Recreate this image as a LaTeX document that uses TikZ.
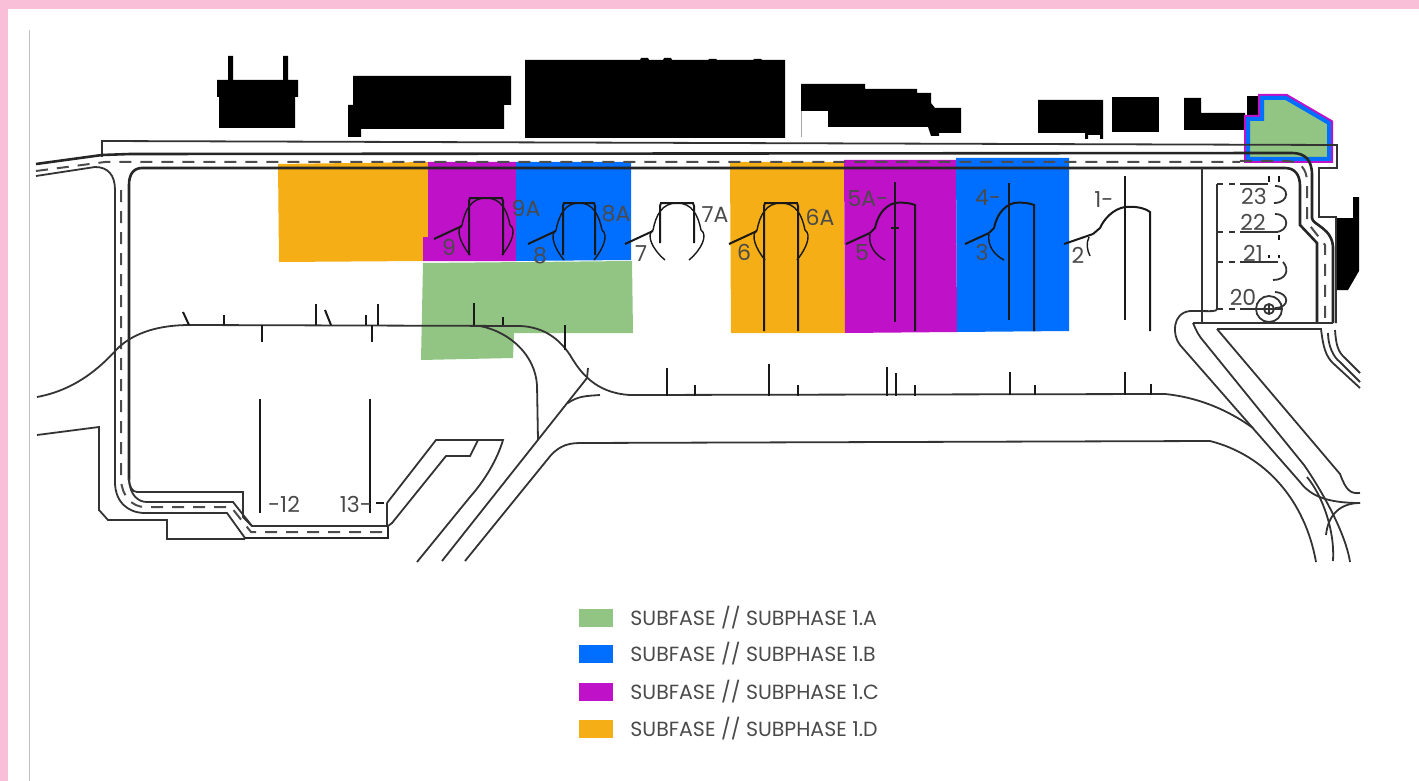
\documentclass[tikz,border=0pt]{standalone}
\usepackage{fontspec}
\setmainfont{Poppins}
\usetikzlibrary{positioning}
\definecolor{frameP}{HTML}{F9BFD8}
\definecolor{subA}{HTML}{92C484}
\definecolor{subB}{HTML}{006EFF}
\definecolor{subC}{HTML}{BE11C8}
\definecolor{subD}{HTML}{F5AE15}
\definecolor{inkT}{HTML}{4A4A4A}

\begin{document}
\begin{tikzpicture}[x=1pt,y=-1pt,
  road/.style={line width=1.8pt,black!80},
  kerb/.style={line width=2.6pt,black!85},
  midline/.style={line width=2pt,black!70,dash pattern=on 12pt off 9pt},
  bay/.style={line width=2pt,black!90},
  block/.style={fill=black,draw=none},
  zone/.style={draw=none,fill=#1},
  lbl/.style={inner sep=0pt,text=inkT,font=\fontsize{22}{22}\selectfont},
  swatch/.style={draw=none,fill=#1,minimum width=34pt,minimum height=18pt,inner sep=0pt},
  legtext/.style={inner sep=0pt,text=inkT,font=\fontsize{20.5}{20.5}\selectfont}]

\useasboundingbox (0,0) rectangle (1419,781);

% Page frame
\fill[frameP] (0,0) rectangle (1419,9);
\fill[frameP] (0,0) rectangle (8,781);
\draw[black!25,line width=1pt] (29,30) -- (29,781);

% Subphase zones
\fill[zone=subD] (278,164) -- (428,162) -- (428,237) -- (423,237) -- (423,261) -- (279,262) -- cycle;
\fill[zone=subC] (428,162) -- (516,162) -- (516,261) -- (423,261) -- (423,237) -- (428,237) -- cycle;
\fill[zone=subB] (516,162) -- (631,162) -- (631,260) -- (516,261) -- cycle;
\fill[zone=subA] (423,263) -- (632,261) -- (633,333) -- (514,333) -- (513,358) -- (421,360) -- cycle;
\fill[zone=subD] (730,162) -- (844,162) -- (845,333) -- (731,333) -- cycle;
\fill[zone=subC] (844,160) -- (956,160) -- (957,332) -- (845,333) -- cycle;
\fill[zone=subB] (956,158) -- (1069,158) -- (1069,331) -- (957,332) -- cycle;

% Buildings
\fill[block] (217,80) -- (228,80) -- (228,56) -- (233,56) -- (233,80) -- (283,80) -- (283,56) -- (288,56) -- (288,80) -- (298,80) -- (298,97) -- (295,97) -- (295,128) -- (219,128) -- (219,97) -- (217,97) -- cycle;
\fill[block] (353,76) -- (511,76) -- (511,105) -- (504,105) -- (504,129) -- (361,129) -- (361,137) -- (348,137) -- (348,105) -- (353,105) -- cycle;
\fill[block] (525,60) -- (640,60) -- (641,58) -- (648,58) -- (649,60) -- (663,60) -- (664,58) -- (671,58) -- (672,60) -- (708,60) -- (709,59) -- (716,59) -- (717,60) -- (753,60) -- (754,59) -- (761,59) -- (762,60) -- (785,60) -- (785,138) -- (525,138) -- cycle;
\fill[block] (801,84) -- (865,84) -- (865,89) -- (917,89) -- (917,93) -- (931,93) -- (931,103) -- (935,108) -- (961,108) -- (961,133) -- (939,133) -- (939,136) -- (931,136) -- (928,127) -- (828,127) -- (828,111) -- (801,111) -- cycle;
\draw[black!35,line width=1pt] (801,111) -- (801,137);
\fill[block] (1038,100) -- (1103,100) -- (1103,139) -- (1100,139) -- (1100,135) -- (1088,135) -- (1088,139) -- (1085,139) -- (1085,133) -- (1038,133) -- cycle;
\fill[block] (1112,97) -- (1159,97) -- (1159,132) -- (1112,132) -- cycle;
\fill[block] (1184,98) -- (1201,98) -- (1201,113) -- (1245,113) -- (1245,130) -- (1184,130) -- cycle;
\fill[block] (1247,96) -- (1260,96) -- (1260,118) -- (1247,118) -- cycle;
\fill[block] (1335,218) -- (1353,218) -- (1353,197) -- (1359,197) -- (1359,271) -- (1348,290) -- (1335,290) -- cycle;

% Subphase 1.A building with its double outline
\draw[subC,line width=8pt,line join=miter] (1262,98) -- (1286,98) -- (1329,123) -- (1329,159) -- (1248,159) -- (1248,119) -- (1262,119) -- cycle;
\draw[subB,line width=4pt,fill=subA,line join=miter] (1262,98) -- (1286,98) -- (1329,123) -- (1329,159) -- (1248,159) -- (1248,119) -- (1262,119) -- cycle;

% Service road along the top
\draw[road] (102,157) -- (102,141) -- (1337,145) -- (1337,168) -- (1319,168) -- (1319,217) -- (1336,217) -- (1336,323);
\draw[kerb] (36,164) -- (102,155) -- (130,154) -- (1292,153) .. controls (1305,153) and (1312,160) .. (1312,175) -- (1312,218) .. controls (1312,225) and (1334,228) .. (1333,250) -- (1333,323);
\draw[road] (36,176) -- (95,167) .. controls (108,167) and (115,175) .. (115,190) -- (115,482) .. controls (115,502) and (128,513) .. (145,513) -- (227,513) -- (245,538);
\draw[kerb] (129,480) -- (129,185) .. controls (129,175) and (133,168) .. (142,168) -- (1285,168) .. controls (1295,168) and (1300,175) .. (1300,186) -- (1300,225) -- (1317,243) -- (1317,323);
\draw[midline] (36,171) -- (105,162) -- (1240,162);
\draw[midline] (1240,161) -- (1285,161) .. controls (1302,161) and (1306,170) .. (1307,180) -- (1307,222) -- (1325,245) -- (1325,323);
\draw[midline] (121,190) -- (121,480) .. controls (122,496) and (132,507) .. (145,507) -- (231,507) -- (251,532) -- (388,532);
\draw[road] (129,480) .. controls (130,495) and (138,502) .. (147,502) -- (233,502) -- (252,526) -- (388,526);
\draw[road] (129,478) .. controls (129,486) and (132,492) .. (137,492) -- (243,492) -- (243,517) -- (252,526);
\draw[road] (37,435) -- (99,427) -- (99,510) -- (108,520) -- (167,520) -- (167,539) -- (245,539);
\draw[kerb] (245,538) -- (388,538) -- (388,526);
\draw[road] (387,503) -- (387,526);

% Access roads and junctions
\draw[road] (37,397) .. controls (75,390) and (100,368) .. (118,348) .. controls (135,332) and (160,325) .. (190,325) -- (520,326) .. controls (545,327) and (560,340) .. (570,355) .. controls (580,372) and (595,393) .. (630,395) -- (1165,394) .. controls (1205,398) and (1235,415) .. (1253,428);
\draw[road] (480,326) .. controls (510,332) and (535,355) .. (537,385) -- (538,440);
\draw[road] (417,562) -- (470,497) .. controls (485,480) and (497,460) .. (503,440) -- (436,440) -- (387,503);
\draw[road] (388,526) -- (392,523) -- (446,456) -- (470,456) -- (478,440);
\draw[road] (442,561) -- (587,378) -- (588,368);
\draw[road] (568,403) .. controls (578,396) and (586,396) .. (600,395);
\draw[road] (465,561) -- (547,460) .. controls (556,448) and (565,443) .. (580,443) -- (1210,441) .. controls (1265,455) and (1305,500) .. (1316,562);
\draw[road] (1193,323) -- (1333,323);
\draw[road] (1217,329) -- (1321,329) .. controls (1323,345) and (1325,357) .. (1335,365) -- (1360,388);
\draw[road] (1328,333) .. controls (1328,345) and (1333,357) .. (1340,362) -- (1360,382);
\draw[road] (1335,330) .. controls (1336,345) and (1338,352) .. (1345,358) -- (1360,373);
\draw[road] (1193,323) .. controls (1196,330) and (1198,335) .. (1205,343) -- (1304,465) .. controls (1318,485) and (1345,530) .. (1350,562);
\draw[road] (1217,329) -- (1340,474) .. controls (1346,490) and (1350,494) .. (1360,493);
\draw[road] (1202,168) -- (1202,323);
\draw[road] (1217,184) -- (1217,309) .. controls (1215,312) and (1215,311) .. (1190,311) .. controls (1172,313) and (1172,335) .. (1180,345) -- (1300,482) .. controls (1310,495) and (1325,503) .. (1360,503);
\draw[road] (1307,477) .. controls (1322,495) and (1335,530) .. (1333,561);
\draw[road] (1326,535) .. controls (1328,515) and (1340,503) .. (1360,503);

% Bay ticks
\foreach \x/\a/\b in {224/315/325, 316/304/325, 366/315/325, 378/304/325, 474/303/325, 503/317/325, 262/325/342, 372/325/342, 565/325/350, 667/368/396, 695/385/396, 769/364/396, 798/385/396, 887/367/396, 896/373/396, 915/385/396, 1010/372/395, 1035/385/395, 1125/372/395, 1151/384/395} {
    \draw[bay] (\x,\a) -- (\x,\b);
}
\draw[bay] (183,312) -- (189,325);
\draw[bay] (325,310) -- (331,325);
\draw[bay] (260,399) -- (260,513);
\draw[bay] (370,399) -- (370,513);
\draw[bay] (376,503) -- (384,503);

% Stands with two gates
\foreach \x/\y/\w/\e/\b in {469/198/34/57/1, 563/203/32/52/1, 660/203/34/40/5, 764/203/34/128/1} {
    \begin{scope}[shift={(\x,\y)}]
    \draw[bay] (0,\e) -- (0,3) -- (1,0) -- (\w-1,0) -- (\w,3) -- (\w,\e);
    \draw[bay,line width=1.4pt] (-7,27) .. controls (-4,12) and (2,0) .. (\w/2,0) .. controls (\w-2,0) and (\w+4,12) .. (\w+7,27);
    \draw[bay,line width=1.4pt] (-7,27) .. controls (-14,32) and (-8,46) .. (\b,57);
    \draw[bay,line width=1.4pt] (\w+7,27) .. controls (\w+14,32) and (\w+8,46) .. (\w-\b,57);
    \draw[bay] (-35,41) -- (-7,28);
    \end{scope}
}

% Stands with one gate
\foreach \x/\r/\t/\e in {895/915/182/322, 1009/1034/183/320} {
    \draw[bay] (\x,\t) -- (\x,\e);
    \draw[bay] (\r,331) -- (\r,205) .. controls (\r-5,203) and (\r-12,202) .. (\r-20,203) .. controls (\r-32,206) and (\r-38,218) .. (\r-40,228) -- (\r-45,233);
    \draw[bay] (\r-69,244) -- (\r-45,233);
    \draw[bay,line width=1.4pt] (\r-45,234) .. controls (\r-47,245) and (\r-40,255) .. (\r-30,260);
}
\draw[bay] (891,228) -- (899,228);
\draw[bay] (1125,176) -- (1125,320);
\draw[bay] (1150,331) -- (1150,212) .. controls (1145,208) and (1135,206) .. (1125,207) .. controls (1113,209) and (1104,219) .. (1100,228) -- (1093,234);
\draw[bay] (1064,244) -- (1093,234);
\draw[bay,line width=1.4pt] (1089,237) .. controls (1086,243) and (1087,250) .. (1090,256);

% Small apron
\foreach \y/\a in {184/1268, 232/1278, 262/1278, 309/1283} {
    \draw[road,dash pattern=on 6pt off 6pt] (1217,\y) -- (1240,\y);
    \draw[road] (1240,\y) -- (\a,\y);
}
\draw[road] (1275,186) .. controls (1290,186) and (1290,203) .. (1274,203);
\draw[road] (1275,214) .. controls (1290,214) and (1290,232) .. (1275,232);
\draw[road] (1283,262) .. controls (1290,270) and (1286,280) .. (1273,280);
\draw[road] (1275,292) .. controls (1290,293) and (1290,308) .. (1275,308);
\foreach \x/\a/\b in {1269/176/182, 1279/176/182, 1279/235/240, 1269/255/258, 1279/255/258} {
    \draw[bay] (\x,\a) -- (\x,\b);
}
\draw[road] (1269,309) circle[radius=13pt];
\draw[road] (1269,309) circle[radius=5pt];
\draw[road] (1265,309) -- (1273,309);
\draw[road] (1269,305) -- (1269,313);

% Stand numbers
\foreach \n/\x/\y/\lab in {nineA/526/208/9A, nine/449/247/9, eightA/616/214/8A, eight/540/256/8, sevenA/715/215/7A, seven/641/254/7, sixA/820/217/6A, six/744/252/6, fiveA/868/199/5A-, five/862/253/5, four/988/198/4-, three/982/252/3, one/1104/200/1-, two/1078/255/2, twelve/284/504/-12, thirteen/356/504/13-, twtythree/1254/196/23, twtytwo/1253/222/22, twtyone/1253/253/21, twenty/1243/297/20} {
    \node[lbl] (num\n) at (\x,\y) {\lab};
}

% Legend
\foreach \y/\col/\lab in {618/subA/A, 654/subB/B, 692/subC/C, 729/subD/D} {
    \node[swatch=\col] (swatch\lab) at (596,\y) {};
    \node[legtext,right=17pt of swatch\lab] (legend\lab) {SUBFASE // SUBPHASE 1.\lab};
}

\end{tikzpicture}
\end{document}
